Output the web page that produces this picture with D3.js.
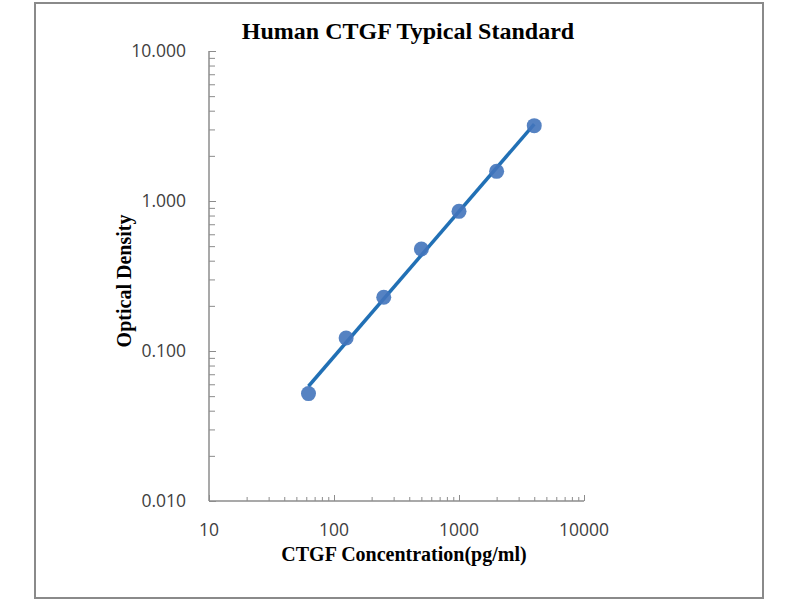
<!DOCTYPE html>
<html>
<head>
<meta charset="utf-8">
<script src="https://cdn.jsdelivr.net/npm/d3@7"></script>
<style>
  body { margin: 0; background: #fff; }
  svg { display: block; }
</style>
</head>
<body>
<svg id="chart" width="800" height="600"></svg>
<script>
// standard curve values
const concentration = [62.5, 125, 250, 500, 1000, 2000, 4000];
const density = [0.052, 0.122, 0.228, 0.479, 0.853, 1.577, 3.18];
const xTickValues = [10, 100, 1000, 10000];
const yTickValues = [0.01, 0.1, 1, 10];

const margin = { top: 51, right: 216, bottom: 99, left: 209 };
const width = 800 - margin.left - margin.right;
const height = 600 - margin.top - margin.bottom;

const svg = d3.select('#chart');

// outer frame
svg.append('rect')
  .attr('x', 35).attr('y', 3)
  .attr('width', 728).attr('height', 595)
  .attr('fill', 'none')
  .attr('stroke', '#8a8a8a')
  .attr('stroke-width', 2);

const chart = svg.append('g')
  .attr('transform', 'translate(' + margin.left + ',' + margin.top + ')');

const x = d3.scaleLog().domain([10, 10000]).range([0, width]);
const y = d3.scaleLog().domain([0.01, 10]).range([height, 0]);

// minor ticks for every decade
function minorTicks(lo, hi) {
  const out = [];
  for (let d = lo; d < hi; d *= 10) {
    for (let k = 2; k <= 9; k++) out.push(d * k);
  }
  return out;
}

const axisColor = '#8c8c8c';

// x axis
const xAxis = chart.append('g')
  .attr('transform', 'translate(0,' + height + ')');
xAxis.call(d3.axisBottom(x).tickValues(minorTicks(10, 10000)).tickSize(-4).tickFormat(''));
xAxis.call(g => g.append('g').call(d3.axisBottom(x).tickValues(xTickValues).tickSize(-6).tickFormat('')));
xAxis.selectAll('.domain').remove();
xAxis.append('line').attr('x1', 0).attr('x2', width).attr('stroke', axisColor).attr('stroke-width', 1.5);
xAxis.selectAll('.tick line').attr('stroke', axisColor);

// y axis
const yAxis = chart.append('g');
yAxis.call(d3.axisLeft(y).tickValues(minorTicks(0.01, 10)).tickSize(-6).tickFormat(''));
yAxis.call(g => g.append('g').call(d3.axisLeft(y).tickValues(yTickValues).tickSize(-7).tickFormat('')));
yAxis.selectAll('.domain').remove();
yAxis.append('line').attr('y1', 0).attr('y2', height).attr('stroke', axisColor).attr('stroke-width', 1.5);
yAxis.selectAll('.tick line').attr('stroke', axisColor);

// tick labels
const labelFont = '"Open Sans", "Liberation Sans", sans-serif';
chart.selectAll('.xlabel')
  .data(xTickValues)
  .enter().append('text')
  .attr('x', d => x(d))
  .attr('y', height + 35)
  .attr('text-anchor', 'middle')
  .attr('font-family', labelFont)
  .attr('font-size', 17.5)
  .attr('fill', '#404040')
  .text(d => d);

chart.selectAll('.ylabel')
  .data(yTickValues)
  .enter().append('text')
  .attr('x', -23)
  .attr('y', d => y(d) + 6)
  .attr('text-anchor', 'end')
  .attr('font-family', labelFont)
  .attr('font-size', 17.5)
  .attr('fill', '#404040')
  .text(d => d3.format('.3f')(d));

// power trendline fitted in log-log space
const lx = concentration.map(v => Math.log10(v));
const ly = density.map(v => Math.log10(v));
const mx = d3.mean(lx), my = d3.mean(ly);
const slope = d3.sum(lx.map((v, i) => (v - mx) * (ly[i] - my))) / d3.sum(lx.map(v => (v - mx) * (v - mx)));
const icpt = my - slope * mx;
const fitEnds = d3.extent(concentration);

const line = d3.line()
  .x(d => x(d))
  .y(d => y(Math.pow(10, icpt + slope * Math.log10(d))));

chart.append('path')
  .datum(fitEnds)
  .attr('d', line)
  .attr('fill', 'none')
  .attr('stroke', '#2170b5')
  .attr('stroke-width', 3.5);

chart.selectAll('.dot')
  .data(concentration)
  .enter().append('circle')
  .attr('cx', d => x(d))
  .attr('cy', (d, i) => y(density[i]))
  .attr('r', 7.5)
  .attr('fill', '#4274bb')
  .attr('fill-opacity', 0.9);

// titles
svg.append('text')
  .attr('x', 408).attr('y', 39)
  .attr('text-anchor', 'middle')
  .attr('font-family', '"Liberation Serif", "Times New Roman", serif')
  .attr('font-weight', 'bold')
  .attr('font-size', 24)
  .attr('fill', '#000')
  .text('Human CTGF Typical Standard');

svg.append('text')
  .attr('x', 404).attr('y', 561)
  .attr('text-anchor', 'middle')
  .attr('font-family', '"Liberation Serif", "Times New Roman", serif')
  .attr('font-weight', 'bold')
  .attr('font-size', 20)
  .attr('fill', '#000')
  .text('CTGF Concentration(pg/ml)');

svg.append('text')
  .attr('transform', 'translate(131,281) rotate(-90)')
  .attr('text-anchor', 'middle')
  .attr('font-family', '"Liberation Serif", "Times New Roman", serif')
  .attr('font-weight', 'bold')
  .attr('font-size', 20)
  .attr('fill', '#000')
  .text('Optical Density');
</script>
</body>
</html>
